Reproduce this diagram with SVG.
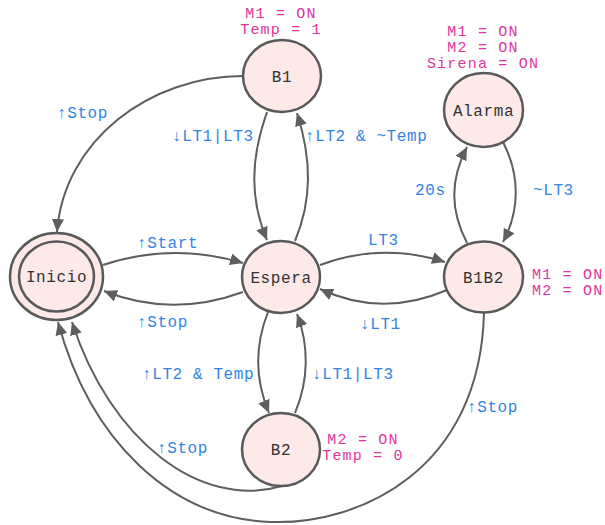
<svg xmlns="http://www.w3.org/2000/svg" width="605" height="525" viewBox="0 0 605 525">
  <style>
    .node { fill: #fce9e8; stroke: #595959; stroke-width: 2.5; }
    .name { font-family: "Liberation Mono", "DejaVu Sans Mono", monospace; font-size: 16px; letter-spacing: 0.6px; fill: #333333; text-anchor: middle; }
    .out { font-family: "Liberation Mono", "DejaVu Sans Mono", monospace; font-size: 15px; letter-spacing: 1.2px; fill: #e0359f; }
    .lbl { font-family: "Liberation Mono", "DejaVu Sans Mono", monospace; font-size: 16px; letter-spacing: 0.6px; fill: #3384e6; }
    .edge { fill: none; stroke: #5e5e5e; stroke-width: 2; marker-end: url(#arrow); }
  </style>
  <defs>
    <marker id="arrow" markerUnits="userSpaceOnUse" markerWidth="14" markerHeight="12" refX="13" refY="6" orient="auto">
      <path d="M0,0 L13,6 L0,12 Z" fill="#5e5e5e"/>
    </marker>
  </defs>
  <rect width="605" height="525" fill="#ffffff"/>

  <!-- transitions -->
  <g id="connectors">
    <path class="edge" d="M243,76 C150,76 64,140 57,232"/>
    <path class="edge" d="M267,112 C250,160 250,200 267,240"/>
    <path class="edge" d="M295,241 C312,200 312,160 297,113"/>
    <path class="edge" d="M103,265 Q172,242 243,263"/>
    <path class="edge" d="M243,292 Q172,318 104,291"/>
    <path class="edge" d="M320,265 Q382,242 445,262"/>
    <path class="edge" d="M447,290 Q382,318 320,289"/>
    <path class="edge" d="M467,243 C450,210 450,180 467,147"/>
    <path class="edge" d="M503,142 C520,175 520,210 503,242"/>
    <path class="edge" d="M268,312 C255,345 255,380 269,413"/>
    <path class="edge" d="M295,413 C309,380 309,345 297,314"/>
    <path class="edge" d="M282,486 C200,510 110,440 72,322"/>
    <path class="edge" d="M484,313 C480,470 360,525 270,522 C170,518 90,440 58,322"/>
  </g>

  <!-- transition labels -->
  <g id="labels">
    <text class="lbl" x="57" y="118">↑Stop</text>
    <text class="lbl" x="172" y="141">↓LT1|LT3</text>
    <text class="lbl" x="305" y="141">↑LT2 &amp; ~Temp</text>
    <text class="lbl" x="415" y="195">20s</text>
    <text class="lbl" x="533" y="195">~LT3</text>
    <text class="lbl" x="137" y="248">↑Start</text>
    <text class="lbl" x="137" y="327">↑Stop</text>
    <text class="lbl" x="368" y="245">LT3</text>
    <text class="lbl" x="360" y="329">↓LT1</text>
    <text class="lbl" x="142" y="379">↑LT2 &amp; Temp</text>
    <text class="lbl" x="312" y="379">↓LT1|LT3</text>
    <text class="lbl" x="157" y="453">↑Stop</text>
    <text class="lbl" x="467" y="412">↑Stop</text>
  </g>

  <g id="Inicio">
    <ellipse class="node" cx="56.5" cy="276.5" rx="46.5" ry="43.5"/>
    <ellipse class="node" cx="56.5" cy="276.5" rx="37.5" ry="35"/>
    <text class="name" x="56.5" y="282">Inicio</text>
  </g>
  <g id="B1">
    <ellipse class="node" cx="282" cy="76" rx="39" ry="36"/>
    <text class="name" x="282" y="82">B1</text>
    <text class="out" x="281" y="18" text-anchor="middle">M1 = ON</text>
    <text class="out" x="281" y="34" text-anchor="middle">Temp = 1</text>
  </g>
  <g id="Espera">
    <ellipse class="node" cx="281" cy="277" rx="39" ry="36"/>
    <text class="name" x="281" y="283">Espera</text>
  </g>
  <g id="Alarma">
    <ellipse class="node" cx="483.5" cy="110" rx="39.5" ry="37"/>
    <text class="name" x="483.5" y="116">Alarma</text>
    <text class="out" x="483" y="36" text-anchor="middle">M1 = ON</text>
    <text class="out" x="483" y="52" text-anchor="middle">M2 = ON</text>
    <text class="out" x="483" y="68" text-anchor="middle">Sirena = ON</text>
  </g>
  <g id="B1B2">
    <ellipse class="node" cx="483.5" cy="277" rx="39.5" ry="35.5"/>
    <text class="name" x="483.5" y="283">B1B2</text>
    <text class="out" x="532" y="279">M1 = ON</text>
    <text class="out" x="532" y="295">M2 = ON</text>
  </g>
  <g id="B2">
    <ellipse class="node" cx="281" cy="449.5" rx="39" ry="36.5"/>
    <text class="name" x="281" y="455">B2</text>
    <text class="out" x="363" y="444" text-anchor="middle">M2 = ON</text>
    <text class="out" x="363" y="460" text-anchor="middle">Temp = 0</text>
  </g>
</svg>
